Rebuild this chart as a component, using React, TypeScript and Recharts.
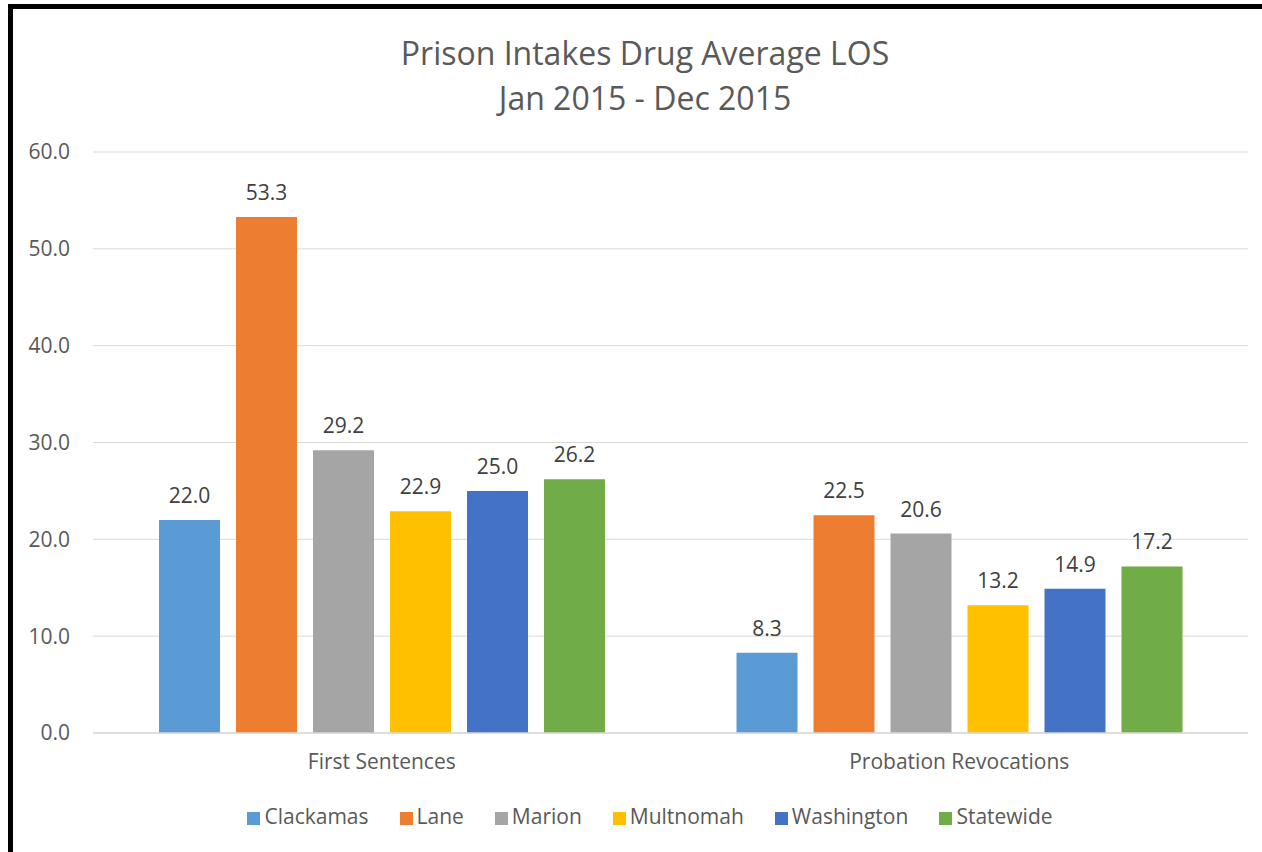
import { BarChart, Bar, XAxis, YAxis, CartesianGrid, Legend, LabelList } from "recharts";

const categories = ["First Sentences", "Probation Revocations"];
const clackamas = [22.0, 8.3];
const lane = [53.3, 22.5];
const marion = [29.2, 20.6];
const multnomah = [22.9, 13.2];
const washington = [25.0, 14.9];
const statewide = [26.2, 17.2];
const yTicks = [0, 10, 20, 30, 40, 50, 60];

const series = [
  { key: "Clackamas", values: clackamas, color: "#5B9BD5" },
  { key: "Lane", values: lane, color: "#ED7D31" },
  { key: "Marion", values: marion, color: "#A5A5A5" },
  { key: "Multnomah", values: multnomah, color: "#FFC000" },
  { key: "Washington", values: washington, color: "#4472C4" },
  { key: "Statewide", values: statewide, color: "#70AD47" },
];

const data = categories.map((name, i) => {
  const row: Record<string, string | number> = { name };
  series.forEach((s) => {
    row[s.key] = s.values[i];
  });
  return row;
});

const text = "#595959";
const fmt = (v: unknown) => Number(v).toFixed(1);

export default function App() {
  return (
    <div
      style={{
        position: "fixed",
        left: 0,
        top: 0,
        width: 1262,
        height: 852,
        overflow: "hidden",
        background: "#fff",
        fontFamily: "'Open Sans', sans-serif",
      }}
    >
      <style>{`.recharts-legend-item { margin-right: 31px !important; } .recharts-legend-item:last-child { margin-right: 0 !important; }`}</style>
      <div
        style={{
          position: "absolute",
          left: 8,
          top: 4,
          width: 1300,
          height: 900,
          borderLeft: "5px solid #000",
          borderTop: "5px solid #000",
        }}
      />
      <div
        style={{
          position: "absolute",
          left: 0,
          top: 30,
          width: 1290,
          textAlign: "center",
          fontSize: 32,
          lineHeight: "45px",
          color: text,
        }}
      >
        Prison Intakes Drug Average LOS
        <br />
        Jan 2015 - Dec 2015
      </div>
      <div style={{ position: "absolute", left: 0, top: 0 }}>
        <BarChart
          width={1300}
          height={852}
          data={data}
          margin={{ top: 152, right: 52, left: 0, bottom: 22 }}
          barCategoryGap={66}
          barGap={16}
        >
          <CartesianGrid vertical={false} stroke="#D9D9D9" />
          <XAxis
            dataKey="name"
            height={69}
            tickLine={false}
            tickSize={0}
            tickMargin={21}
            axisLine={{ stroke: "#D9D9D9", strokeWidth: 1.5 }}
            tick={{ fill: text, fontSize: 21 }}
          />
          <YAxis
            width={93}
            domain={[0, 60]}
            ticks={yTicks}
            tickFormatter={fmt}
            axisLine={false}
            tickLine={false}
            tickSize={0}
            tickMargin={23}
            tick={{ fill: text, fontSize: 21 }}
          />
          <Legend
            verticalAlign="bottom"
            iconType="square"
            iconSize={13}
            itemSorter={null}
            wrapperStyle={{ fontSize: 21, color: text, transform: "translateX(26px)" }}
            formatter={(v) => <span style={{ color: text }}>{v}</span>}
          />
          {series.map((s) => (
            <Bar key={s.key} dataKey={s.key} fill={s.color} isAnimationActive={false}>
              <LabelList
                dataKey={s.key}
                position="top"
                offset={17}
                formatter={fmt}
                fill="#404040"
                fontSize={21}
              />
            </Bar>
          ))}
        </BarChart>
      </div>
    </div>
  );
}
